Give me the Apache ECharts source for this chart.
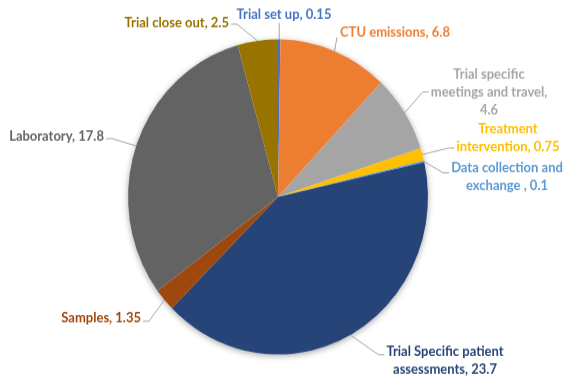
<!DOCTYPE html>
<html>
<head>
<meta charset="utf-8">
<script src="https://cdn.jsdelivr.net/npm/echarts@6/dist/echarts.min.js"></script>
<style>
  html, body { margin: 0; padding: 0; background: #ffffff; overflow: hidden; width: 564px; height: 388px; }
  /* the pie is drawn slightly taller than wide */
  #chart { width: 564px; height: 388px; transform: scale(1, 1.05); transform-origin: 0 0; }
</style>
</head>
<body>
<div id="chart"></div>
<script>
// Emission sources (clockwise from 12 o'clock)
const categories = [
  'Trial set up',
  'CTU emissions',
  'Trial specific meetings and travel',
  'Treatment intervention',
  'Data collection and exchange ',
  'Trial Specific patient assessments',
  'Samples',
  'Laboratory',
  'Trial close out'
];
const values = [0.15, 6.8, 4.6, 0.75, 0.1, 23.7, 1.35, 17.8, 2.5];

// Office palette
const colors = ['#4472C4', '#ED7D31', '#A5A5A5', '#FFC000', '#5B9BD5', '#264478', '#9E480E', '#636363', '#997300'];

// How each label text wraps
const labelText = [
  n => n + ', ',
  n => n + ', ',
  () => 'Trial specific\nmeetings and travel,\n',
  () => 'Treatment\nintervention, ',
  () => 'Data collection and\nexchange , ',
  () => 'Trial Specific patient\nassessments, ',
  n => n + ', ',
  n => n + ', ',
  n => n + ', '
];

// Where each label sits and which side its leader meets
const labelSpots = [
  { x: 284, y: 14.3, align: 'center', side: 'bottom' },
  { x: 340, y: 30.5, align: 'left',   side: 'bottomLeft' },
  { x: 489, y: 87.6, align: 'center', side: 'left', dy: 0 },
  { x: 508, y: 131,  align: 'center', side: 'left', dy: 10 },
  { x: 507, y: 168.6, align: 'center', side: 'left', dy: -4 },
  { x: 445, y: 343.8, align: 'center', side: 'left', dy: -6 },
  { x: 141, y: 302.9, align: 'right',  side: 'right', dy: 3 },
  { x: 104, y: 129.5, align: 'right',  side: 'right', dy: 2.5 },
  { x: 229, y: 21.5, align: 'right',  side: 'right', dy: 1.5 }
];

const total = values.reduce((a, b) => a + b, 0);
const pieCenter = [278, 187.6];
const pieRadius = 150;

const chart = echarts.init(document.getElementById('chart'));
chart.setOption({
  animation: false,
  color: colors,
  series: [{
    // soft drop shadow under the whole pie
    type: 'pie',
    name: 'shadow',
    silent: true,
    z: 1,
    center: pieCenter,
    radius: pieRadius,
    label: { show: false },
    labelLine: { show: false },
    itemStyle: {
      color: '#ffffff',
      shadowBlur: 6,
      shadowColor: 'rgba(0,0,0,0.35)',
      shadowOffsetY: 1.5
    },
    data: [{ name: 'Total', value: total }]
  }, {
    type: 'pie',
    z: 2,
    center: pieCenter,
    radius: pieRadius,
    startAngle: 90,
    clockwise: true,
    avoidLabelOverlap: false,
    itemStyle: { borderWidth: 0 },
    data: categories.map((name, i) => ({
      name: name,
      value: values[i],
      label: { color: colors[i] }
    })),
    label: {
      show: true,
      position: 'outside',
      fontFamily: 'Lato',
      fontWeight: 'bold',
      fontSize: 13,
      lineHeight: 17,
      align: 'center',
      formatter: p => labelText[p.dataIndex](p.name.trim()) + p.value
    },
    labelLine: {
      show: true,
      length: 10,
      length2: 6,
      lineStyle: { color: '#A6A6A6', width: 1 }
    },
    labelLayout: function (p) {
      const s = labelSpots[p.dataIndex];
      const w = p.labelRect.width;
      const h = p.labelRect.height;
      const left = s.align === 'left' ? s.x : (s.align === 'right' ? s.x - w : s.x - w / 2);
      const start = p.labelLinePoints[0];
      let elbow, end;
      if (s.side === 'left') {
        end = [left - 2, s.y + (s.dy || 0)];
        elbow = [end[0] - 6, end[1]];
      } else if (s.side === 'right') {
        end = [left + w + 2, s.y + (s.dy || 0)];
        elbow = [end[0] + 6, end[1]];
      } else if (s.side === 'bottomLeft') {
        end = [left - 3, s.y + 5];
        elbow = end;
      } else {
        end = [start[0], s.y + h / 2 - 1];
        elbow = end;
      }
      return {
        x: s.x,
        y: s.y,
        align: s.align,
        verticalAlign: 'middle',
        labelLinePoints: [start, elbow, end]
      };
    }
  }]
});
</script>
</body>
</html>
